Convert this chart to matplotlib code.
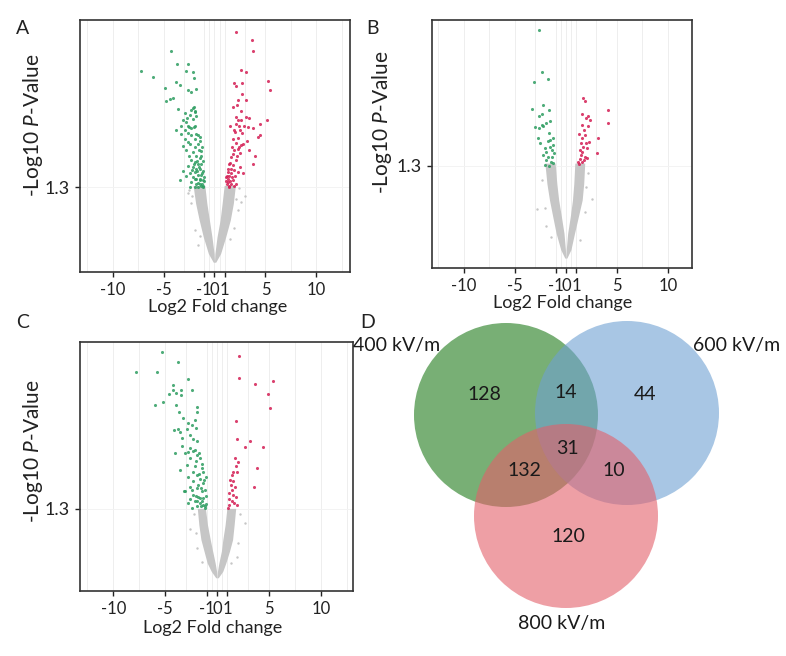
import matplotlib
matplotlib.use("Agg")
import matplotlib.pyplot as plt
from matplotlib import font_manager
from matplotlib.patches import Circle

# ---- data ----
# gray V cloud envelope: -log10 p levels and x bounds (outer/inner per arm)
a_gray_y = [0.0, 0.15, 0.44, 0.73, 1.02, 1.33]
a_lo_out = [-0.12, -0.60, -1.10, -1.50, -1.85, -2.10]
a_lo_in = [0.0, -0.04, -0.25, -0.50, -0.75, -0.95]
a_hi_in = [0.0, 0.04, 0.25, 0.55, 0.75, 0.95]
a_hi_out = [0.12, 0.60, 1.10, 1.55, 1.85, 2.05]
a_gray_x = [3.04, -2.28, -1.96, 2.3, -2.5, 2.4, 1.9, -1.6, -2.2, 2.1, -1.4, 1.5, -2.6, 2.6]
a_gray_py = [1.14, 1.02, 0.55, 0.90, 1.25, 1.28, 0.60, 0.30, 1.15, 1.10, 0.45, 0.40, 1.20, 1.05]
a_down_x = [-4.31, -7.19, -6.05, -3.69, -2.61, -2.84, -2.13, -2.06, -3.82, -3.36, -4.84, -2.62, -2.29, -1.80,
            -4.74, -4.41, -4.09, -3.60, -2.13, -1.96, -2.06, -2.29, -1.96, -2.94, -2.45, -1.80, -2.12, -3.10,
            -2.78, -3.27, -2.61, -1.96, -2.29, -3.76, -2.94, -2.61, -3.27, -1.80, -2.29, -1.47, -2.94, -1.96,
            -2.61, -2.45, -1.63, -3.10, -1.96, -2.78, -2.12, -1.31, -2.52, -1.80, -1.47, -2.29, -1.96, -1.63,
            -1.31, -2.61, -2.12, -1.80, -1.47, -1.14, -1.96, -2.45, -1.63, -1.31, -2.12, -1.80, -1.47, -1.14,
            -2.29, -1.86, -1.47, -1.14, -1.63, -1.31, -1.96, -1.08, -2.78, -3.10, -3.43, -2.39, -1.02, -1.20,
            -1.40, -1.60, -1.25, -1.05, -1.50, -1.70, -1.10, -1.35, -1.55, -1.20, -1.75, -2.00, -1.90, -2.20,
            -1.40, -1.65, -2.00, -2.50, -2.70]
a_down_y = [3.66, 3.31, 3.22, 3.43, 3.44, 3.32, 3.30, 3.19, 3.12, 3.07, 3.02, 2.98, 2.95, 3.01,
            2.80, 2.83, 2.84, 2.66, 2.68, 2.62, 2.69, 2.64, 2.60, 2.58, 2.55, 2.53, 2.49, 2.46,
            2.43, 2.36, 2.37, 2.36, 2.32, 2.29, 2.29, 2.24, 2.23, 2.23, 2.20, 2.17, 2.14, 2.13,
            2.09, 2.05, 2.05, 2.01, 2.00, 1.94, 1.91, 1.92, 1.85, 1.85, 1.81, 1.78, 1.74, 1.71,
            1.70, 1.67, 1.65, 1.62, 1.61, 1.59, 1.56, 1.54, 1.52, 1.51, 1.48, 1.45, 1.43, 1.42,
            1.39, 1.36, 1.35, 1.33, 1.30, 1.32, 1.31, 1.30, 1.49, 1.59, 1.42, 1.31, 1.48, 1.35,
            1.45, 1.38, 1.55, 1.40, 1.65, 1.58, 1.75, 1.85, 1.95, 2.00, 1.75, 1.70, 1.45, 1.60,
            2.10, 2.20, 2.35, 2.35, 2.50]
a_up_x = [2.16, 3.66, 3.82, 2.58, 3.07, 1.96, 2.68, 2.13, 5.29, 5.49, 2.68, 2.35, 3.14, 2.19, 1.80, 2.65,
          2.12, 3.10, 3.37, 2.61, 2.29, 2.16, 5.16, 1.54, 2.45, 2.88, 3.27, 4.48, 3.76, 4.51, 4.25, 1.93,
          2.68, 1.80, 2.09, 2.61, 2.45, 2.32, 1.96, 3.17, 4.02, 3.82, 1.80, 1.63, 2.12, 1.41, 1.86, 1.63,
          2.52, 2.29, 1.31, 1.47, 2.78, 1.14, 1.80, 1.31, 2.12, 1.20, 1.30, 1.50, 1.25, 1.60, 1.10, 1.40,
          1.70, 1.90, 2.00, 1.35, 1.55, 2.20, 2.50, 1.70, 2.30, 2.00, 2.50, 2.80, 3.40, 1.60, 1.45, 1.90]
a_up_y = [3.99, 3.86, 3.67, 3.34, 3.29, 3.11, 3.11, 3.06, 3.14, 2.99, 2.92, 2.81, 2.82, 2.73, 2.69, 2.62,
          2.52, 2.51, 2.50, 2.46, 2.46, 2.40, 2.46, 2.37, 2.36, 2.37, 2.35, 2.40, 2.33, 2.21, 2.17, 2.29,
          2.24, 2.14, 2.06, 2.03, 2.00, 1.97, 1.94, 2.11, 1.85, 1.71, 1.88, 1.82, 1.78, 1.71, 1.68, 1.62,
          1.65, 1.56, 1.56, 1.49, 1.54, 1.48, 1.42, 1.39, 1.36, 1.35, 1.45, 1.40, 1.50, 1.35, 1.40, 1.33,
          1.47, 1.60, 1.50, 1.62, 1.72, 1.85, 1.90, 2.00, 2.15, 2.25, 2.30, 2.05, 1.95, 1.55, 1.30, 1.32]

b_gray_y = [0.0, 0.12, 0.35, 0.60, 0.82, 1.05, 1.34]
b_lo_out = [-0.10, -0.50, -0.95, -1.30, -1.60, -1.85, -2.05]
b_lo_in = [0.0, -0.04, -0.18, -0.45, -0.70, -0.88, -1.05]
b_hi_in = [0.0, 0.04, 0.18, 0.45, 0.65, 0.78, 0.88]
b_hi_out = [0.10, 0.50, 0.85, 1.25, 1.60, 1.75, 1.85]
b_gray_x = [2.52, -2.87, -2.06, 2.2, -2.3, 1.9, -1.9, 2.0, -1.5, 1.4]
b_gray_py = [0.84, 0.69, 0.71, 1.20, 1.10, 0.65, 0.45, 1.00, 0.30, 0.25]
b_down_x = [-2.61, -2.35, -3.11, -1.70, -2.22, -3.27, -1.63, -2.38, -2.61, -1.57, -1.90, -2.38, -2.22,
            -3.04, -2.61, -1.63, -1.24, -1.57, -1.73, -2.71, -2.48, -1.24, -1.57, -2.06, -1.90, -1.40,
            -1.18, -2.22, -1.73, -1.31, -1.90, -1.50, -1.24, -2.06, -1.63]
b_down_y = [3.22, 2.63, 2.48, 2.53, 2.16, 2.10, 2.09, 2.03, 2.01, 1.93, 1.90, 1.88, 1.86,
            1.85, 1.84, 1.77, 1.69, 1.67, 1.65, 1.69, 1.63, 1.59, 1.57, 1.55, 1.50, 1.52,
            1.48, 1.46, 1.43, 1.42, 1.38, 1.36, 1.34, 1.32, 1.30]
b_up_x = [1.70, 1.86, 4.15, 4.15, 1.63, 2.19, 1.96, 2.35, 1.54, 2.19, 1.77, 1.27, 1.86, 1.54, 3.17,
          1.44, 1.96, 2.29, 1.70, 1.37, 2.09, 3.01, 1.63, 1.47, 1.86, 1.37, 1.76, 2.03, 1.21, 1.63, 1.31]
b_up_y = [2.26, 2.22, 2.09, 1.90, 2.03, 2.00, 1.97, 1.95, 1.88, 1.86, 1.81, 1.75, 1.74, 1.69, 1.70,
          1.63, 1.63, 1.64, 1.57, 1.53, 1.55, 1.48, 1.50, 1.45, 1.43, 1.40, 1.39, 1.41, 1.36, 1.35, 1.33]

c_gray_y = [0.0, 0.12, 0.28, 0.50, 0.72, 1.00, 1.31]
c_lo_out = [-0.12, -0.55, -0.95, -1.25, -1.55, -1.75, -1.90]
c_lo_in = [0.0, -0.04, -0.18, -0.42, -0.65, -0.92, -1.12]
c_hi_in = [0.0, 0.04, 0.18, 0.42, 0.56, 0.78, 0.95]
c_hi_out = [0.12, 0.55, 0.85, 1.20, 1.50, 1.65, 1.80]
c_gray_x = [-2.6, -1.96, 2.7, 2.0, -2.2, 2.2, -2.0, 1.9, -1.4, 1.3]
c_gray_py = [0.92, 0.57, 1.04, 0.66, 1.20, 1.20, 0.85, 0.40, 0.30, 0.28]
c_down_x = [-5.28, -3.80, -7.83, -5.76, -2.83, -4.22, -4.28, -3.51, -2.44, -4.61, -3.93, -3.51, -5.99,
            -5.18, -3.99, -1.90, -1.96, -3.64, -3.32, -2.13, -2.77, -2.44, -4.15, -3.74, -3.57, -2.93,
            -2.03, -2.61, -3.41, -2.29, -1.96, -4.00, -2.61, -3.09, -2.13, -3.41, -2.77, -1.90, -1.64,
            -2.61, -3.57, -2.93, -2.13, -1.48, -2.35, -1.90, -2.77, -1.64, -2.29, -1.39, -2.61, -1.96,
            -3.09, -1.48, -2.29, -1.80, -1.32, -2.61, -2.13, -1.64, -1.32, -2.77, -1.90, -1.16, -2.44,
            -3.19, -1.20, -1.40, -1.10, -1.50, -1.25, -1.70, -1.35, -1.10, -1.55, -2.00, -1.85, -2.40,
            -1.15, -1.45, -2.00, -2.30, -1.60, -1.95, -1.05, -1.75]
c_down_y = [4.26, 4.07, 3.88, 3.89, 3.75, 3.63, 3.55, 3.54, 3.54, 3.47, 3.49, 3.45, 3.26,
            3.32, 3.26, 3.22, 3.13, 3.13, 3.02, 2.98, 2.92, 2.88, 2.79, 2.80, 2.76, 2.80,
            2.82, 2.70, 2.63, 2.62, 2.58, 2.35, 2.45, 2.35, 2.41, 2.49, 2.38, 2.32, 2.26,
            2.26, 2.03, 2.13, 2.11, 2.07, 2.00, 1.94, 1.91, 1.86, 1.82, 1.79, 1.72, 1.69,
            1.63, 1.63, 1.57, 1.53, 1.50, 1.48, 1.44, 1.41, 1.38, 1.41, 1.35, 1.35, 1.32,
            1.64, 1.32, 1.45, 1.55, 1.70, 1.85, 1.95, 2.00, 1.40, 1.36, 1.55, 1.75, 1.65,
            1.65, 2.15, 2.20, 2.40, 1.50, 1.45, 1.90, 2.35]
c_up_x = [2.13, 2.09, 3.67, 5.35, 4.90, 5.09, 1.80, 1.90, 3.16, 2.73, 4.47, 1.74, 2.00, 1.84, 3.89,
          1.51, 1.90, 1.42, 3.57, 1.26, 1.58, 1.32, 1.74, 1.42, 1.19, 1.58, 1.84, 1.13, 1.42, 1.64,
          1.90, 1.19, 1.06]
c_up_y = [4.19, 3.77, 3.65, 3.72, 3.47, 3.21, 2.96, 2.61, 2.59, 2.47, 2.46, 2.26, 2.18, 2.10, 2.08,
          1.99, 1.99, 1.94, 1.71, 1.85, 1.82, 1.75, 1.72, 1.66, 1.60, 1.57, 1.53, 1.48, 1.44, 1.41,
          1.38, 1.38, 1.32]

x_ticks = [-10, -5, -1, 0, 1, 5, 10]
x_minor = [-12.5, -7.5, -3, -0.5, 0.5, 3, 7.5, 12.5]
p_cut = 1.3

venn_labels = ["400 kV/m", "600 kV/m", "800 kV/m"]
venn_counts = {"100": 128, "110": 14, "010": 44, "111": 31, "101": 132, "011": 10, "001": 120}

# ---- style ----
names = {f.name for f in font_manager.fontManager.ttflist}
family = next(n for n in ["Liberation Sans Narrow", "Lato", "DejaVu Sans"] if n in names)
plt.rcParams["font.family"] = [family, "DejaVu Sans"]
plt.rcParams["mathtext.fontset"] = "custom"
plt.rcParams["mathtext.it"] = family + ":italic"
plt.rcParams["mathtext.rm"] = family

GREEN = "#2f9e62"
RED = "#d41f55"
GRAY = "#c6c6c6"
TXT = "#222222"

fig = plt.figure(figsize=(7.86, 6.56), dpi=100)
W, H = 786, 656


def px_axes(l, t, r, b):
    return fig.add_axes([l / W, 1 - b / H, (r - l) / W, (b - t) / H])


def volcano(ax, gy, lo_out, lo_in, hi_in, hi_out, gx, gpy, dx, dy, ux, uy, xlim, ylim):
    for v in x_ticks + x_minor:
        ax.axvline(v, color="#eeeeee", lw=0.7, zorder=0)
    ax.axhline(p_cut, color="#f3f3f3", lw=0.7, zorder=0)
    ax.fill_betweenx(gy, lo_out, lo_in, color=GRAY, lw=0, zorder=1)
    ax.fill_betweenx(gy, hi_in, hi_out, color=GRAY, lw=0, zorder=1)
    ax.scatter(gx, gpy, s=3, color=GRAY, lw=0, zorder=1)
    ax.scatter(dx, dy, s=5, color=GREEN, lw=0, alpha=0.85, zorder=2)
    ax.scatter(ux, uy, s=5, color=RED, lw=0, alpha=0.85, zorder=2)
    ax.set_xlim(*xlim)
    ax.set_ylim(*ylim)
    ax.set_xticks(x_ticks)
    ax.set_xticklabels([str(t) for t in x_ticks])
    ax.set_yticks([p_cut])
    ax.set_yticklabels(["1.3"])
    ax.tick_params(labelsize=12, colors=TXT, length=3.5, width=1, pad=4)
    ax.tick_params(axis="y", labelsize=13)
    for sp in ax.spines.values():
        sp.set_color("#333333")
        sp.set_linewidth(1.2)


axA = px_axes(80, 20, 350, 272)
volcano(axA, a_gray_y, a_lo_out, a_lo_in, a_hi_in, a_hi_out, a_gray_x, a_gray_py,
        a_down_x, a_down_y, a_up_x, a_up_y, (-13.2, 13.3), (-0.17, 4.2))
axB = px_axes(432, 20, 692, 268)
volcano(axB, b_gray_y, b_lo_out, b_lo_in, b_hi_in, b_hi_out, b_gray_x, b_gray_py,
        b_down_x, b_down_y, b_up_x, b_up_y, (-13.1, 12.35), (-0.14, 3.36))
axC = px_axes(80, 342, 353, 591)
volcano(axC, c_gray_y, c_lo_out, c_lo_in, c_hi_in, c_hi_out, c_gray_x, c_gray_py,
        c_down_x, c_down_y, c_up_x, c_up_y, (-13.2, 13.1), (-0.25, 4.45))

ylab = "-Log10 $\\it{P}$-Value"
for (x, y), (xl, yl) in zip([(33, 125), (382, 122), (33, 451)],
                            [(218, 307), (563, 303), (213, 628)]):
    fig.text(x / W, 1 - y / H, ylab, rotation=90, ha="center", va="center", fontsize=15, color=TXT)
    fig.text(xl / W, 1 - yl / H, "Log2 Fold change", ha="center", va="center", fontsize=13, color=TXT)

for lab, (x, y) in zip("ABCD", [(23, 28), (372, 28), (23, 322), (368, 322)]):
    fig.text(x / W, 1 - y / H, lab, ha="center", va="center", fontsize=14, color=TXT)

# ---- Venn (D) ----
axV = fig.add_axes([0, 0, 1, 1])
axV.set_xlim(0, W)
axV.set_ylim(H, 0)
axV.axis("off")
axV.patch.set_alpha(0)
circles = [((506, 415), "#1e7a1a"), ((627, 413), "#6ea0d2"), ((566, 516), "#e35f6a")]
for (c, col) in circles:
    axV.add_patch(Circle(c, 92, facecolor=col, edgecolor="none", alpha=0.6))

pos = {"100": (484, 394), "110": (566, 393), "010": (645, 395), "111": (567, 449),
       "101": (524, 471), "011": (614, 471), "001": (568, 536)}
for k, v in venn_counts.items():
    axV.text(*pos[k], str(v), ha="center", va="center", fontsize=14, color="#1a1a1a")
for lab, (x, y) in zip(venn_labels, [(397, 345), (737, 345), (562, 623)]):
    axV.text(x, y, lab, ha="center", va="center", fontsize=14, color="#1a1a1a")

fig.savefig("out.png", dpi=100)
